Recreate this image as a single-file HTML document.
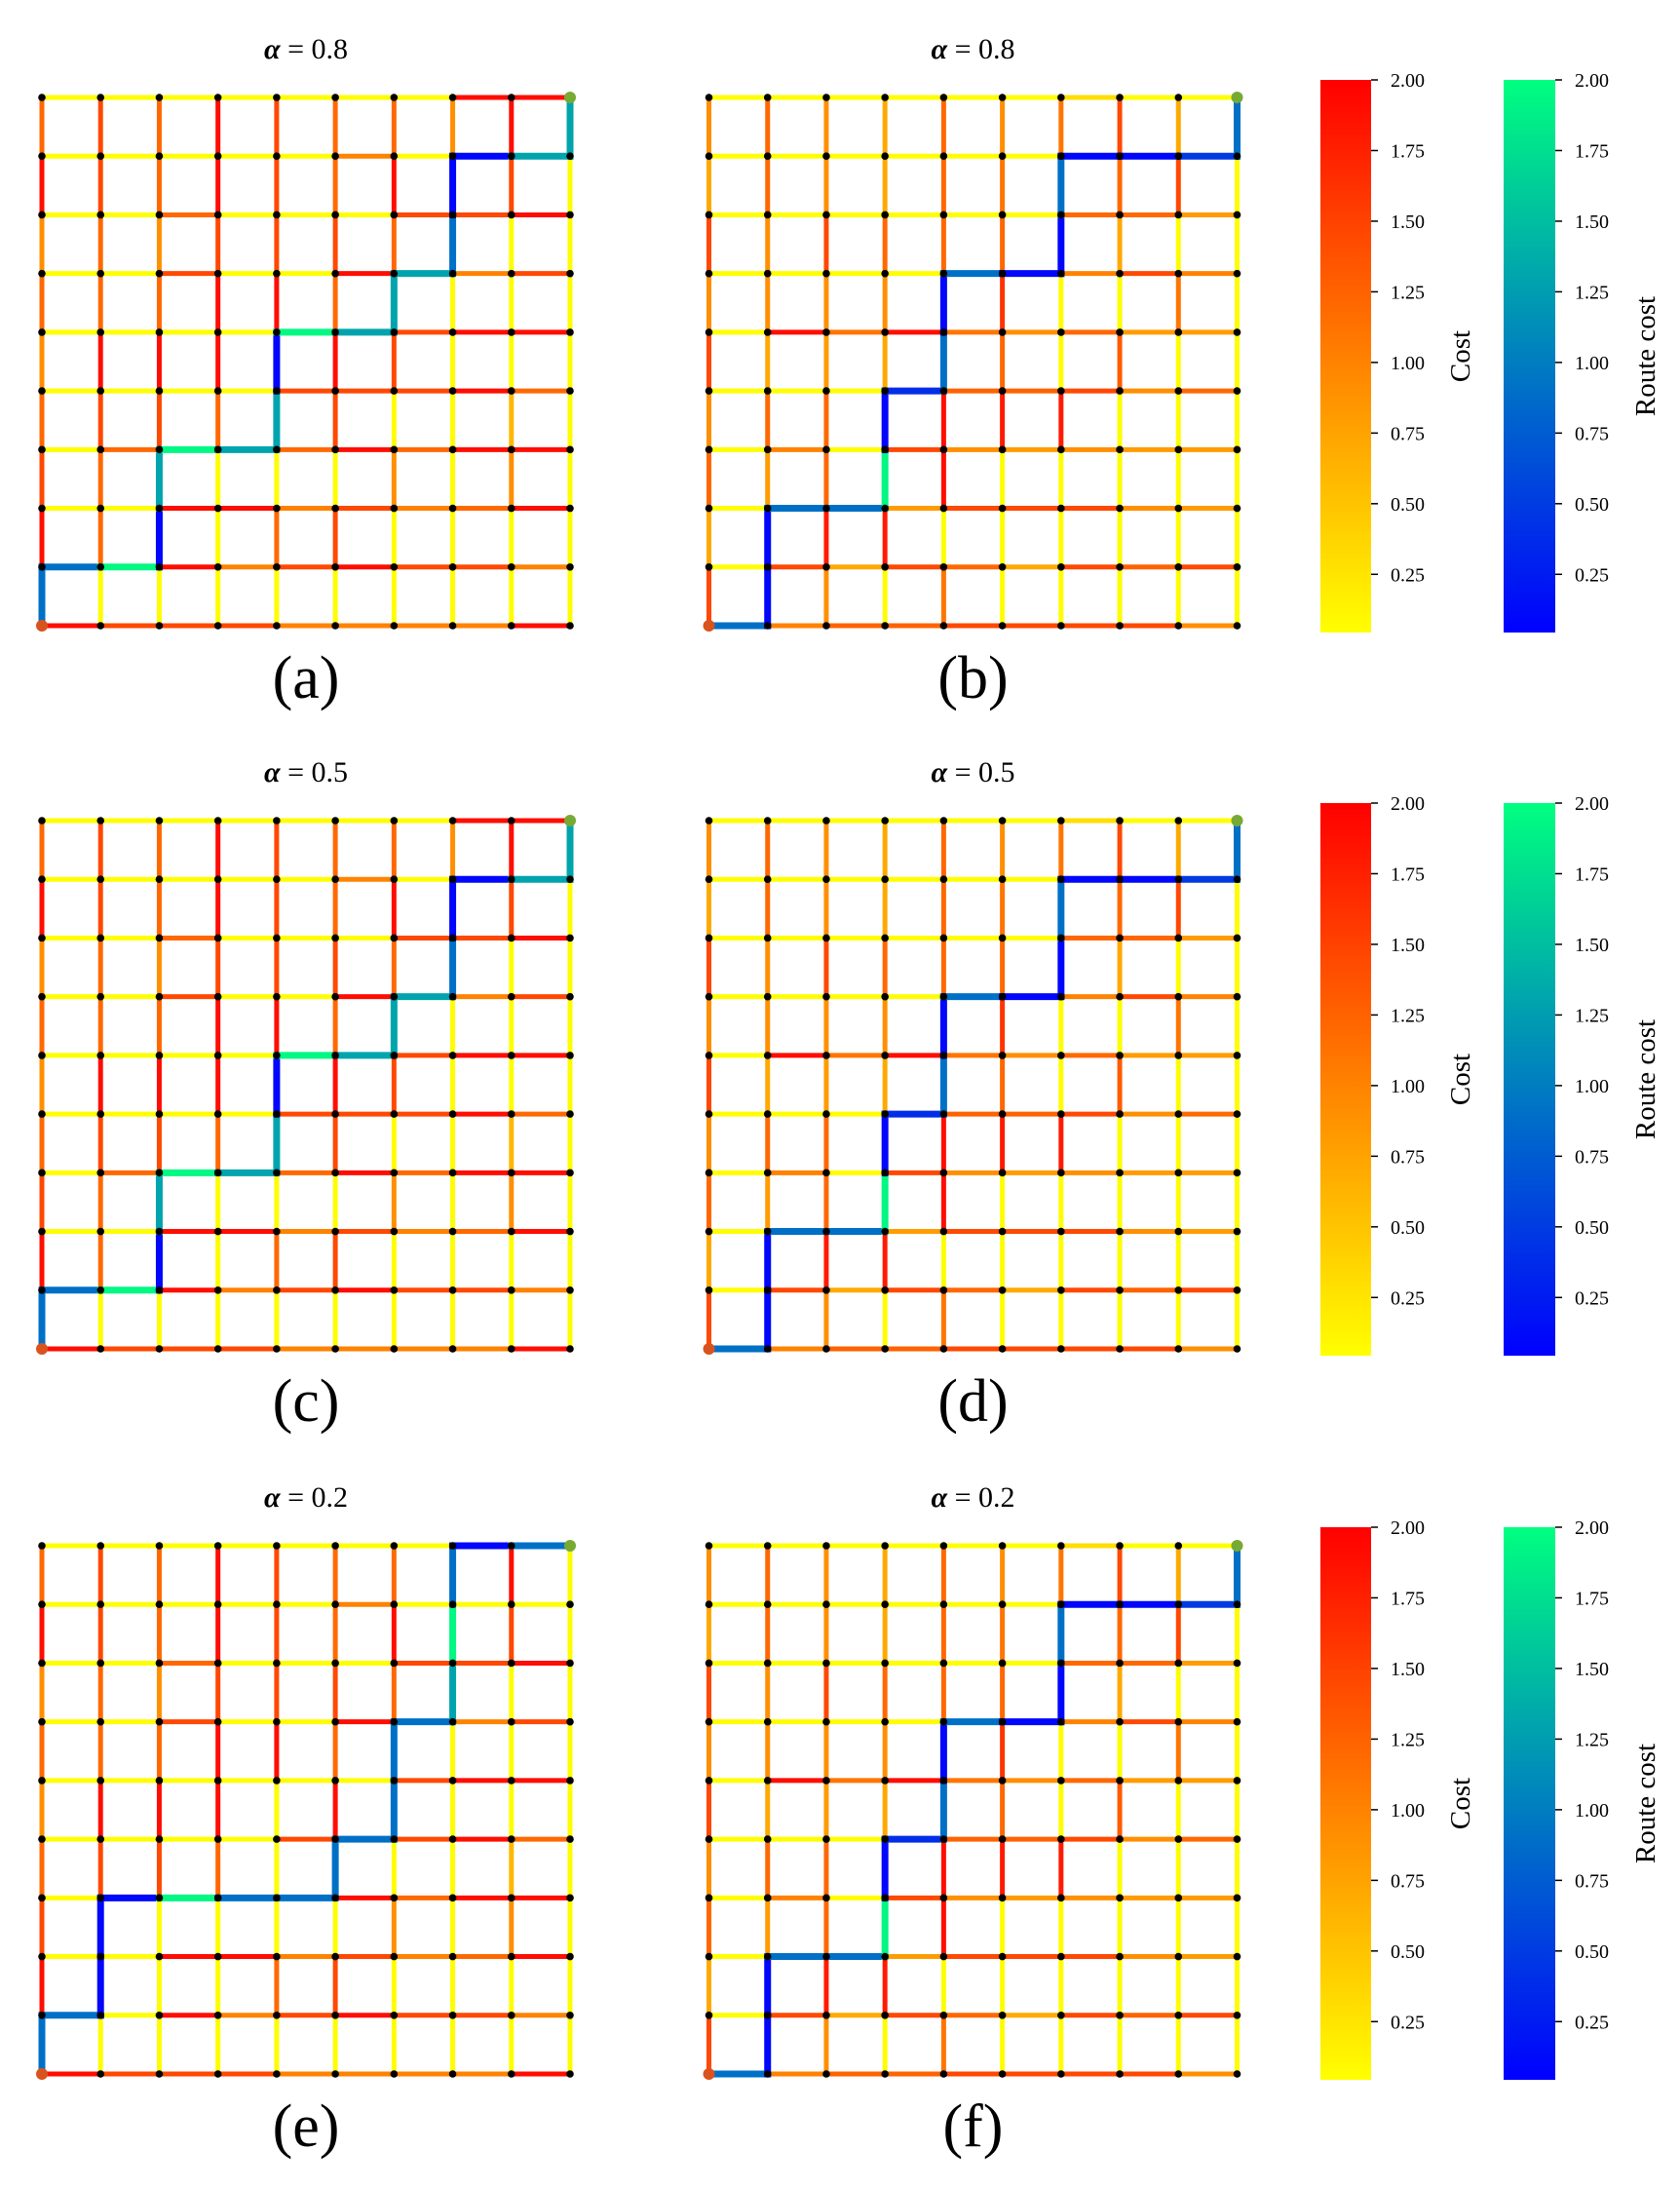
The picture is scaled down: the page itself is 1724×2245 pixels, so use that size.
<!DOCTYPE html>
<html><head><meta charset="utf-8"><style>
html,body{margin:0;padding:0;background:#fff;}
svg{display:block;}
text{font-family:"Liberation Serif","DejaVu Serif",serif;fill:#000;}
</style></head><body>
<svg id="fig" width="1724" height="2245" viewBox="0 0 1724 2245" xmlns="http://www.w3.org/2000/svg"></svg>
<script>
// ---- data ----
const alphas = ["0.8","0.8","0.5","0.5","0.2","0.2"];
const panelLabels = ["(a)","(b)","(c)","(d)","(e)","(f)"];
const cbTicks = [0.25,0.5,0.75,1.0,1.25,1.5,1.75,2.0];
const vmin = 0.044, vmax = 2.0;
// horizontal edge costs, rows top(9) to bottom(0), 9 edges each, left to right
const hCostL = [
[.05,.05,.05,.05,.05,.05,.05,1.9,1.9],
[.05,.05,.05,.05,.05,1.0,.05,.05,.05],
[.05,.05,1.2,.05,.05,.05,1.45,1.45,1.9],
[.05,.05,1.45,.05,.05,1.9,.05,1.0,1.45],
[.05,.05,.05,.05,.05,.05,1.45,1.9,1.9],
[.05,.05,.05,.05,1.45,1.45,1.45,1.9,1.2],
[.05,1.2,.05,.05,1.2,1.9,1.2,1.9,1.9],
[.05,.05,1.9,1.9,1.0,1.45,1.0,1.2,1.9],
[.05,.05,1.9,1.0,1.45,1.9,1.45,1.45,1.0],
[1.9,1.45,1.45,1.45,1.0,1.0,1.0,1.0,1.9]];
// vertical edge costs, columns left to right, 9 edges each from top to bottom
const vCostL = [
[1.2,1.9,.9,1.2,.9,1.2,1.45,1.9,.05],
[1.45,1.45,1.2,1.2,1.9,1.45,1.2,1.2,.05],
[1.2,1.2,.9,1.2,1.9,1.45,.05,.05,.05],
[1.9,1.9,1.45,1.9,1.9,1.2,.05,.05,.05],
[1.45,1.45,1.45,1.9,.05,.05,.05,1.2,.05],
[1.2,1.2,1.45,1.2,1.9,1.45,.05,1.45,.05],
[1.2,1.9,1.2,.05,1.45,.05,.9,.05,.05],
[.9,.05,.05,.05,.05,.05,.05,.05,.05],
[1.9,1.45,.05,.05,.05,.6,.9,.05,.05],
[.05,.05,.05,.05,.05,.05,.05,.05,.05]];
const hCostR = [
[.05,.05,.05,.05,.05,.05,.3,.05,.05],
[.05,.05,.05,.05,.05,.05,.05,.05,.05],
[.05,.05,.05,.05,.05,.05,1.2,1.2,.8],
[.05,.05,.05,.05,.05,.05,1.0,1.45,1.0],
[.05,1.9,1.1,1.9,1.1,.9,1.2,.8,.8],
[.05,.05,.05,.05,1.25,1.25,1.45,.9,1.2],
[.05,1.0,.05,1.45,.9,.8,.9,.8,.8],
[.05,.05,.05,.8,1.45,1.45,1.45,.9,.8],
[.05,1.45,.7,1.45,1.2,.7,1.45,1.25,1.45],
[.05,1.0,1.25,1.25,1.45,1.45,1.45,1.45,.9]];
const vCostR = [
[.9,.7,1.45,.9,1.45,.9,1.2,.7,1.45],
[1.2,1.2,.9,.9,.7,1.2,.8,.05,.05],
[.9,.9,1.45,.9,.8,1.2,1.2,1.8,.9],
[.7,.7,1.2,.9,.7,.05,.05,1.8,.05],
[1.2,1.2,1.2,.05,.05,1.9,1.9,.05,1.1],
[.9,1.1,1.2,1.6,1.2,1.8,.05,.05,.05],
[1.1,.05,.05,.05,.05,1.8,.05,.05,.05],
[1.45,1.2,.7,.05,1.3,.05,.05,.05,.05],
[.7,1.45,.05,1.1,.05,.05,.05,.05,.05],
[.05,.05,.05,.05,.05,.05,.05,.05,.05]];
// routes: node sequences [col,row] (row 0 = bottom) and per-edge route costs
const routeA = [[0,0],[0,1],[1,1],[2,1],[2,2],[2,3],[3,3],[4,3],[4,4],[4,5],[5,5],[6,5],[6,6],[7,6],[7,7],[7,8],[8,8],[9,8],[9,9]];
const routeCostA = [.9,.9,1.95,.1,1.3,1.95,1.3,1.3,.1,1.95,1.3,1.3,1.3,.9,.1,.1,1.3,1.3];
const routeB = [[0,0],[1,0],[1,1],[1,2],[2,2],[3,2],[3,3],[3,4],[4,4],[4,5],[4,6],[5,6],[6,6],[6,7],[6,8],[7,8],[8,8],[9,8],[9,9]];
const routeCostB = [.9,.1,.1,.9,.9,1.95,.1,.4,.9,.1,.9,.1,.1,.9,.1,.1,.5,.9];
const routeE = [[0,0],[0,1],[1,1],[1,2],[1,3],[2,3],[3,3],[4,3],[5,3],[5,4],[6,4],[6,5],[6,6],[7,6],[7,7],[7,8],[7,9],[8,9],[9,9]];
const routeCostE = [.9,.9,.1,.1,.1,1.95,.9,.9,.9,.9,.9,.9,.9,1.3,1.95,.9,.1,.9];

// ---- drawing ----
const NS="http://www.w3.org/2000/svg";
const svg=document.getElementById('fig');
function mk(tag,attrs,parent){const e=document.createElementNS(NS,tag);for(const k in attrs)e.setAttribute(k,attrs[k]);(parent||svg).appendChild(e);return e;}
function norm(v){return Math.max(0,Math.min(1,(v-vmin)/(vmax-vmin)));}
function costColor(v){const t=norm(v);return `rgb(255,${Math.round(255*(1-t))},0)`;}
function routeColor(v){const t=norm(v);return `rgb(0,${Math.round(255*t)},${Math.round(255*(1-t/2))})`;}

const panels=[
 {x0:43,y0:100,h:hCostL,v:vCostL,r:routeA,rc:routeCostA},
 {x0:727.5,y0:100,h:hCostR,v:vCostR,r:routeB,rc:routeCostB},
 {x0:43,y0:842,h:hCostL,v:vCostL,r:routeA,rc:routeCostA},
 {x0:727.5,y0:842,h:hCostR,v:vCostR,r:routeB,rc:routeCostB},
 {x0:43,y0:1586,h:hCostL,v:vCostL,r:routeE,rc:routeCostE},
 {x0:727.5,y0:1586,h:hCostR,v:vCostR,r:routeB,rc:routeCostB}];
const W=542, step=W/9;

panels.forEach((p,pi)=>{
  const g=mk('g',{});
  
  
  const X=c=>p.x0+c*step, Y=r=>p.y0+(9-r)*step;
  for(let ri=0;ri<10;ri++){const row=9-ri;for(let c=0;c<9;c++){
    const l=mk('line',{x1:X(c),y1:Y(row),x2:X(c+1),y2:Y(row),stroke:costColor(p.h[ri][c]),'stroke-width':5},g);
    
    }}
  for(let c=0;c<10;c++){for(let k=0;k<9;k++){const r1=9-k,r2=8-k;
    const l=mk('line',{x1:X(c),y1:Y(r1),x2:X(c),y2:Y(r2),stroke:costColor(p.v[c][k]),'stroke-width':5},g);
    
    }}
  for(let i=0;i<p.r.length-1;i++){const a=p.r[i],b=p.r[i+1];
    const l=mk('line',{x1:X(a[0]),y1:Y(a[1]),x2:X(b[0]),y2:Y(b[1]),stroke:routeColor(p.rc[i]),'stroke-width':7,'stroke-linecap':'square'},g);
    
    }
  for(let c=0;c<10;c++)for(let r=0;r<10;r++){
    const n=mk('circle',{cx:X(c),cy:Y(r),r:3.8,fill:'#000'},g);
    
    }
  const s=mk('circle',{cx:X(0),cy:Y(0),r:6,fill:'#d9531e'},g);
  
  
  const e=mk('circle',{cx:X(9),cy:Y(9),r:6,fill:'#77aa33'},g);
  
  
  const cx=p.x0+W/2;
  const t=mk('text',{x:cx,y:p.y0-40,'text-anchor':'middle','font-size':30});
  t.innerHTML='<tspan font-style="italic" font-weight="bold">α</tspan> = '+alphas[pi];
  
  
  const lb=mk('text',{x:cx,y:p.y0+W+74,'text-anchor':'middle','font-size':62});
  lb.textContent=panelLabels[pi];
  
  
});

// colorbars
function colorbar(x,y,w,h,fn,label,labelX,gid,name){
  const g=mk('g',{});
  
  
  const defs=mk('defs',{},g);
  const lg=mk('linearGradient',{id:gid,x1:0,y1:1,x2:0,y2:0},defs);
  for(let i=0;i<=10;i++){const v=vmin+(vmax-vmin)*i/10;mk('stop',{offset:i/10,'stop-color':fn(v)},lg);}
  mk('rect',{x:x,y:y,width:w,height:h,fill:`url(#${gid})`},g);
  const sy=v=>y+h-(v-vmin)/(vmax-vmin)*h;
  cbTicks.forEach(v=>{
    mk('line',{x1:x+w,y1:sy(v),x2:x+w+7,y2:sy(v),stroke:'#000','stroke-width':1.5},g);
    const t=mk('text',{x:x+w+20,y:sy(v)+7,'font-size':20},g);
    t.textContent=v.toFixed(2);
    
    
  });
  const lab=mk('text',{x:labelX,y:y+h/2,'text-anchor':'middle','font-size':29,transform:`rotate(-90 ${labelX} ${y+h/2})`},g);
  lab.textContent=label;
  
  
}
[82,824,1567].forEach((yy,i)=>{
  colorbar(1355,yy,52,567,costColor,'Cost',1508,'gc'+i,'cost-colorbar');
  colorbar(1543,yy,53,567,routeColor,'Route cost',1698,'gr'+i,'route-cost-colorbar');
});
</script>
</body></html>
